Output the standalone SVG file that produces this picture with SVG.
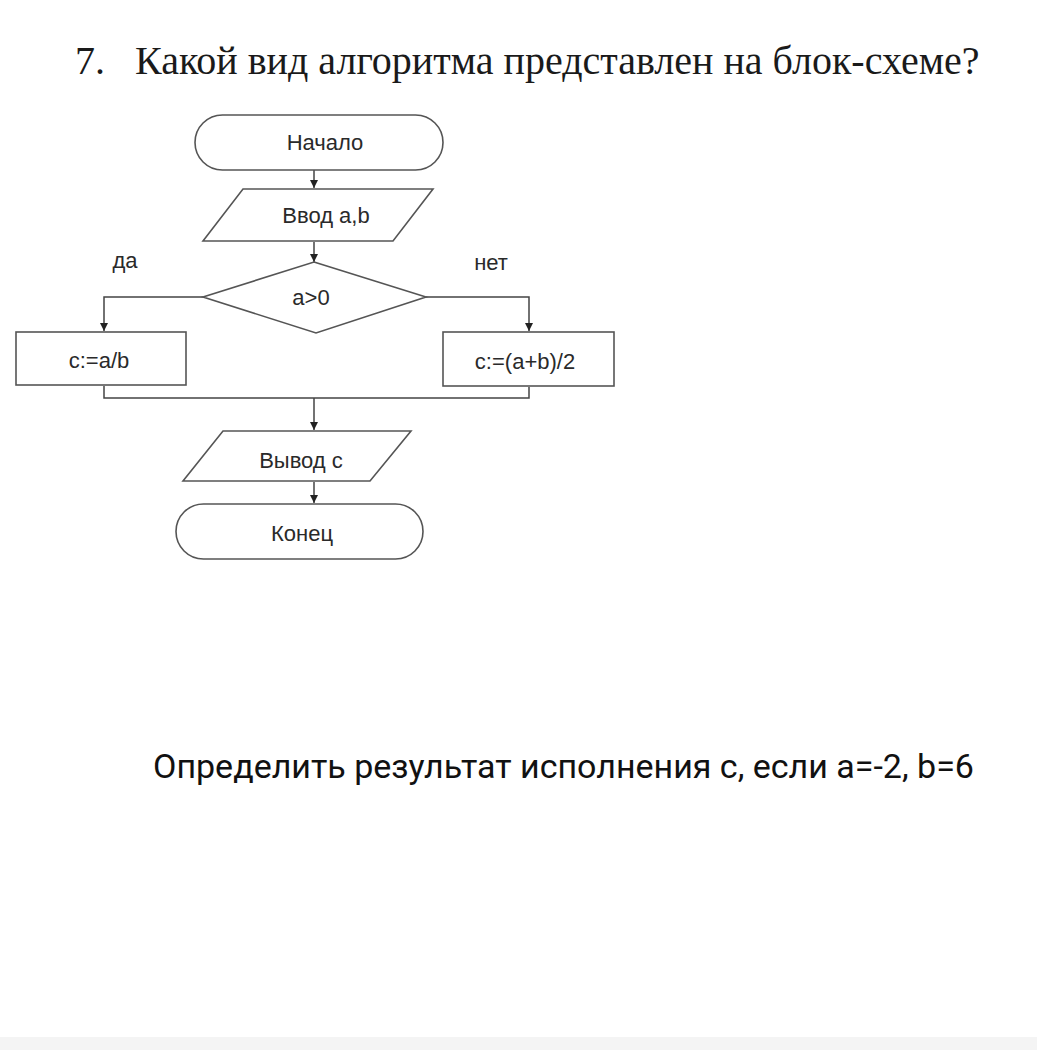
<svg xmlns="http://www.w3.org/2000/svg" width="1037" height="1050" viewBox="0 0 1037 1050">
<defs>
<marker id="ah" viewBox="0 0 10 10" refX="10" refY="5" markerWidth="8" markerHeight="8" markerUnits="userSpaceOnUse" orient="auto"><path d="M0,0 L10,5 L0,10 z" fill="#222"/></marker>
<style>
.sh{fill:#fff;stroke:#555;stroke-width:1.6}
.ln{fill:none;stroke:#444;stroke-width:1.5}
.t{font-family:"Liberation Sans",Arial,sans-serif;font-size:22px;fill:#2a2a2a;text-anchor:middle}
</style>
</defs>
<rect x="0" y="0" width="1037" height="1050" fill="#fff"/>
<rect x="0" y="1037" width="1037" height="13" fill="#f4f4f4"/>
<text x="75" y="74" font-family="Liberation Serif,'Times New Roman',serif" font-size="40" fill="#1a1a1a">7.</text>
<text x="135" y="74" font-family="Liberation Serif,'Times New Roman',serif" font-size="40" fill="#1a1a1a">Какой вид алгоритма представлен на блок-схеме?</text>
<g id="connectors">
<line class="ln" x1="314" y1="170" x2="314" y2="188" marker-end="url(#ah)"/>
<line class="ln" x1="314" y1="242" x2="314" y2="262" marker-end="url(#ah)"/>
<polyline class="ln" points="203,297 104,297 104,331" marker-end="url(#ah)"/>
<polyline class="ln" points="426,297 529,297 529,331" marker-end="url(#ah)"/>
<polyline class="ln" points="104,386 104,398 529,398 529,387"/>
<line class="ln" x1="314" y1="398" x2="314" y2="430" marker-end="url(#ah)"/>
<line class="ln" x1="314" y1="482" x2="314" y2="503" marker-end="url(#ah)"/>
</g>
<g id="start"><rect class="sh" x="195" y="115" width="248" height="55" rx="27.5"/><text class="t" x="325" y="150">Начало</text></g>
<g id="input"><polygon class="sh" points="243,189 433,189 393,241 203,241"/><text class="t" x="326" y="223">Ввод a,b</text></g>
<g id="cond"><polygon class="sh" points="314,262 426,297 316,333 203,297"/><text class="t" x="311" y="305">a&gt;0</text></g>
<text class="t" x="125" y="268">да</text>
<text class="t" x="491" y="270">нет</text>
<g id="yes"><rect class="sh" x="16" y="332" width="170" height="53"/><text class="t" x="99" y="368">c:=a/b</text></g>
<g id="no"><rect class="sh" x="443" y="332" width="171" height="54"/><text class="t" x="525" y="369">c:=(a+b)/2</text></g>
<g id="output"><polygon class="sh" points="223,431 411,431 370,481 183,481"/><text class="t" x="301" y="468">Вывод c</text></g>
<g id="end"><rect class="sh" x="176" y="504" width="247" height="55" rx="27.5"/><text class="t" x="302" y="541">Конец</text></g>
<text x="153" y="778" font-family="Roboto,'Noto Sans',sans-serif" font-size="34" fill="#111">Определить результат исполнения c, если a=-2, b=6</text>
</svg>
